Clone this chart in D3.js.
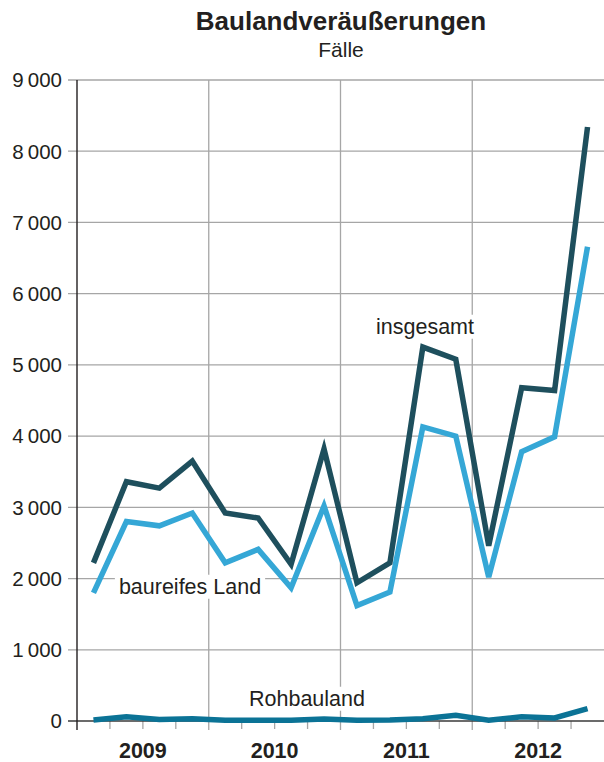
<!DOCTYPE html>
<html lang="de">
<head>
    <meta charset="UTF-8">
    <title>Baulandveräußerungen</title>
    <style>
        body {
            margin: 0;
            padding: 0;
            background: #fff;
            font-family: 'Liberation Sans', Arial, sans-serif;
        }
        .grid line {
            stroke: #a6a6a6;
            stroke-width: 1.3px;
        }
        .tick-label {
            font-size: 20.5px;
            fill: #231f20;
        }
        .year-label {
            font-size: 21.5px;
            font-weight: bold;
            fill: #231f20;
        }
        .series-label {
            font-size: 21.5px;
            fill: #231f20;
        }
        .line {
            fill: none;
            stroke-width: 5.5px;
            stroke-linejoin: miter;
            stroke-linecap: butt;
        }
    </style>
</head>
<body>
<div id="chart"></div>
<script src="https://d3js.org/d3.v7.min.js"></script>
<script>
    // quarters 2009 Q1 .. 2012 Q4
    const years = ["2009", "2010", "2011", "2012"];
    const quarters = ["I", "II", "III", "IV"];
    const insgesamt = [2220, 3360, 3270, 3650, 2920, 2850, 2200, 3820,
                       1940, 2220, 5250, 5080, 2460, 4680, 4640, 8340];
    const baureifes = [1800, 2800, 2740, 2920, 2220, 2410, 1870, 3020,
                       1620, 1810, 4130, 4000, 2020, 3780, 3990, 6660];
    const rohbauland = [15, 60, 22, 32, 12, 12, 12, 28,
                        12, 14, 32, 80, 12, 60, 42, 175];
    const yTicks = [0, 1000, 2000, 3000, 4000, 5000, 6000, 7000, 8000, 9000];

    const width = 604, height = 762;
    const margin = { top: 80, right: 0, bottom: 41, left: 77 };
    const plotW = width - margin.left - margin.right;
    const plotH = height - margin.top - margin.bottom;

    const svg = d3.select("#chart").append("svg")
        .attr("width", width)
        .attr("height", height);

    const g = svg.append("g")
        .attr("transform", `translate(${margin.left},${margin.top})`);

    const periods = d3.range(years.length * quarters.length);
    const x = d3.scaleBand().domain(periods).range([0, plotW]);
    const xYear = d3.scaleBand().domain(years).range([0, plotW]);
    const y = d3.scaleLinear().domain([0, 9000]).range([plotH, 0]);

    const fmt = v => d3.format(",")(v).replace(/,/g, "\u2009");

    // horizontal grid
    const grid = g.append("g").attr("class", "grid");
    grid.selectAll(".h").data(yTicks.filter(d => d > 0)).enter().append("line")
        .attr("x1", -9).attr("x2", plotW)
        .attr("y1", d => y(d)).attr("y2", d => y(d));

    // vertical grid at year boundaries
    grid.selectAll(".v").data(years.slice(1)).enter().append("line")
        .attr("x1", d => xYear(d)).attr("x2", d => xYear(d))
        .attr("y1", 0).attr("y2", plotH + 9);

    // quarter ticks
    grid.selectAll(".q").data(periods.filter(i => i % 4 !== 0)).enter().append("line")
        .attr("x1", d => x(d)).attr("x2", d => x(d))
        .attr("y1", plotH).attr("y2", plotH + 8);

    // y labels
    g.selectAll(".tick-label").data(yTicks).enter().append("text")
        .attr("class", "tick-label")
        .attr("x", -15)
        .attr("y", d => y(d))
        .attr("dy", "0.36em")
        .attr("text-anchor", "end")
        .text(fmt);

    // year labels
    g.selectAll(".year-label").data(years).enter().append("text")
        .attr("class", "year-label")
        .attr("x", d => xYear(d) + xYear.bandwidth() / 2)
        .attr("y", plotH + 37)
        .attr("text-anchor", "middle")
        .text(d => d);

    // series labels with white backing
    const labels = [
        { text: "insgesamt", x: 425, y: 326 },
        { text: "baureifes Land", x: 190, y: 586 },
        { text: "Rohbauland", x: 307, y: 698 }
    ];
    labels.forEach(l => {
        const t = svg.append("text")
            .attr("class", "series-label")
            .attr("x", l.x).attr("y", l.y)
            .attr("dy", "0.36em")
            .attr("text-anchor", "middle")
            .text(l.text);
        const bb = t.node().getBBox();
        svg.insert("rect", "text.series-label")
            .attr("x", bb.x - 4).attr("y", bb.y)
            .attr("width", bb.width + 8).attr("height", bb.height)
            .attr("fill", "#fff");
    });

    // axes
    g.append("line")
        .attr("x1", -9).attr("x2", plotW)
        .attr("y1", y(0)).attr("y2", y(0))
        .attr("stroke", "#3a3a3a").attr("stroke-width", 1.6);
    g.append("line")
        .attr("x1", 0).attr("x2", 0)
        .attr("y1", 0).attr("y2", plotH + 9)
        .attr("stroke", "#231f20").attr("stroke-width", 1.4);

    const line = d3.line()
        .x((d, i) => x(i) + x.bandwidth() / 2)
        .y(d => y(d));

    const series = [
        { values: rohbauland, color: "#0b7396" },
        { values: baureifes, color: "#35a7d6" },
        { values: insgesamt, color: "#1e4f5d" }
    ];
    g.selectAll(".line").data(series).enter().append("path")
        .attr("class", "line")
        .attr("stroke", d => d.color)
        .attr("d", d => line(d.values));

    // title
    svg.append("text")
        .attr("x", 341).attr("y", 30)
        .attr("text-anchor", "middle")
        .style("font-size", "26px")
        .style("font-weight", "bold")
        .attr("fill", "#231f20")
        .text("Baulandveräußerungen");
    svg.append("text")
        .attr("x", 341).attr("y", 57)
        .attr("text-anchor", "middle")
        .style("font-size", "21px")
        .attr("fill", "#231f20")
        .text("Fälle");
</script>
</body>
</html>
